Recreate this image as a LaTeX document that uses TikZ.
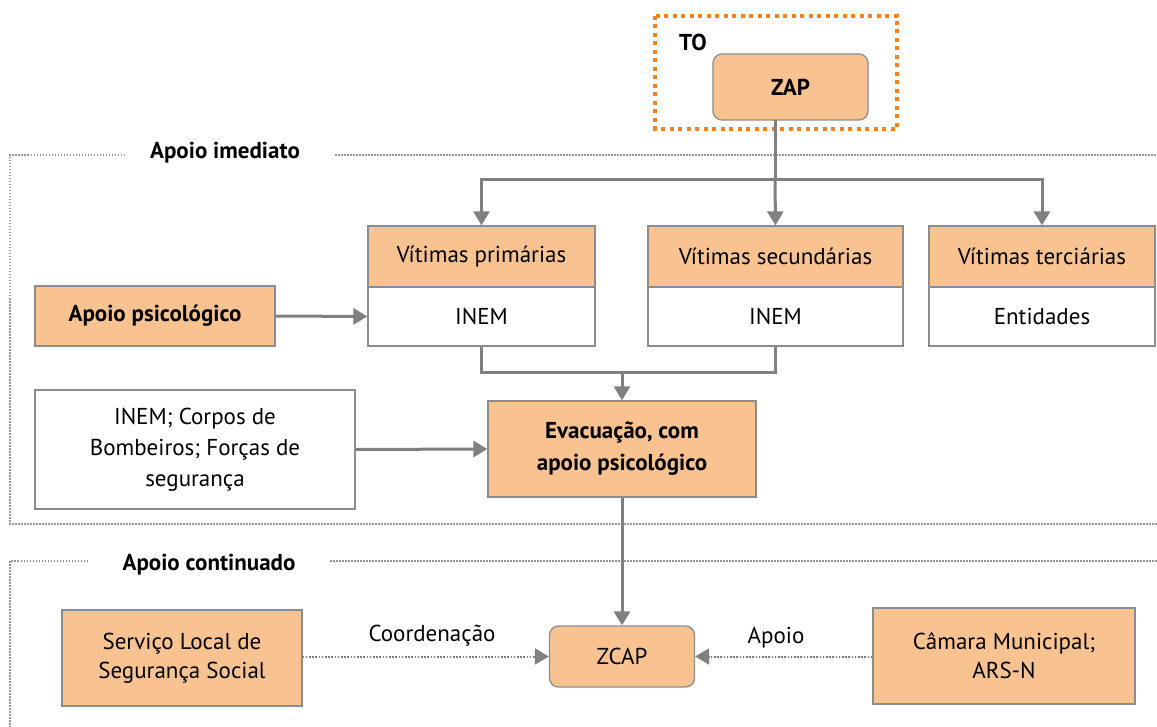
\documentclass[tikz,border=0pt]{standalone}
\usepackage{fontspec}
\setmainfont{PT Sans}
\usetikzlibrary{arrows.meta}
\definecolor{peach}{RGB}{249,195,145}
\definecolor{orng}{RGB}{245,130,32}
\definecolor{lgray}{RGB}{128,128,128}
\definecolor{bgray}{RGB}{140,140,140}
\definecolor{fgray}{RGB}{150,150,150}
\tikzset{
  x=1pt, y=-1pt,
  every node/.style={font=\fontsize{23}{31}\selectfont, inner sep=0pt, align=center},
  pbox/.style={draw=bgray, line width=1.3pt, fill=peach},
  wbox/.style={draw=bgray, line width=1.3pt, fill=white},
  rbox/.style={draw=bgray, line width=1.3pt, fill=peach, rounded corners=9pt},
  conn/.style={draw=lgray, line width=3pt},
  arr/.style={conn, -{Triangle[width=16pt,length=14pt]}},
  darr/.style={draw=lgray, line width=2pt, dash pattern=on 1.6pt off 1.6pt, -{Triangle[width=16pt,length=14pt]}, fill=lgray},
  frame/.style={draw=fgray, line width=1.3pt, dash pattern=on 1.5pt off 1.5pt},
  tobox/.style={draw=orng, line width=4pt, dash pattern=on 4pt off 4.5pt},
  lbl/.style={font=\fontsize{23}{28}\selectfont\bfseries},
}
\begin{document}
\begin{tikzpicture}
\useasboundingbox (0,0) rectangle (1157,727);
% frames
\draw[frame] (125,155) -- (10,155) -- (10,524) -- (1157,524);
\draw[frame] (335,155) -- (1157,155);
\draw[frame] (88,561) -- (10,561) -- (10,727);
\draw[frame] (330,561) -- (1157,561);
\node[lbl] (imed) at (225,153) {Apoio imediato};
\node[lbl] (cont) at (209,565) {Apoio continuado};
% TO box
\draw[tobox] (655,16) rectangle (897,129);
\node[lbl] (to) at (693,42) {TO};
\node[rbox, minimum width=155pt, minimum height=66pt, font=\fontsize{23}{28}\selectfont\bfseries] (zap) at (790.5,87) {ZAP};
% victims
\node[pbox, minimum width=227pt, minimum height=61pt] (vp) at (481.5,256.5) {Vítimas primárias};
\node[wbox, minimum width=227pt, minimum height=59pt] (vpb) at (481.5,316.5) {INEM};
\node[pbox, minimum width=255pt, minimum height=61pt] (vs) at (775.5,256.5) {Vítimas secundárias};
\node[wbox, minimum width=255pt, minimum height=59pt] (vsb) at (775.5,316.5) {INEM};
\node[pbox, minimum width=226pt, minimum height=61pt] (vt) at (1042,256.5) {Vítimas terciárias};
\node[wbox, minimum width=226pt, minimum height=59pt] (vtb) at (1042,316.5) {Entidades};
% connectors from ZAP
\coordinate (split) at (775,180);
\draw[conn] (775,120) -- (split);
\draw[arr] (split) -| (vp.north);
\draw[arr] (split) -| (vt.north);
\draw[arr] (split) -- (vs.north);
% apoio psicologico
\node[pbox, minimum width=240pt, minimum height=60pt, font=\fontsize{23}{28}\selectfont\bfseries] (aps) at (155,316) {Apoio psicológico};
\draw[arr] (aps.east) -- (vpb.west);
% evacuation
\node[pbox, minimum width=268pt, minimum height=96pt, font=\fontsize{23}{32}\selectfont\bfseries] (evac) at (622,449) {Evacuação, com\\apoio psicológico};
\coordinate (join) at (622,373);
\draw[conn] (vpb.south) |- (join);
\draw[conn] (vsb.south) |- (join);
\draw[arr] (join) -- (evac.north);
\node[wbox, minimum width=320pt, minimum height=119pt, font=\fontsize{23}{31}\selectfont] (inem) at (195,449.5) {INEM; Corpos de\\Bombeiros; Forças de\\segurança};
\draw[arr] (inem.east) -- (evac.west);
% bottom
\node[rbox, minimum width=145pt, minimum height=61pt] (zcap) at (622,656.5) {ZCAP};
\draw[arr] (evac.south) -- (zcap.north);
\node[pbox, minimum width=240pt, minimum height=96pt, font=\fontsize{23}{29}\selectfont] (serv) at (182,658) {Serviço Local de\\Segurança Social};
\node[pbox, minimum width=262pt, minimum height=96pt, font=\fontsize{23}{29}\selectfont] (cam) at (1004,656) {Câmara Municipal;\\ARS-N};
\draw[darr] (serv.east |- zcap.west) -- (zcap.west);
\draw[darr] (cam.west |- zcap.east) -- (zcap.east);
\node (coord) at (432,636) {Coordenação};
\node (apoio) at (776,638) {Apoio};
\end{tikzpicture}
\end{document}
